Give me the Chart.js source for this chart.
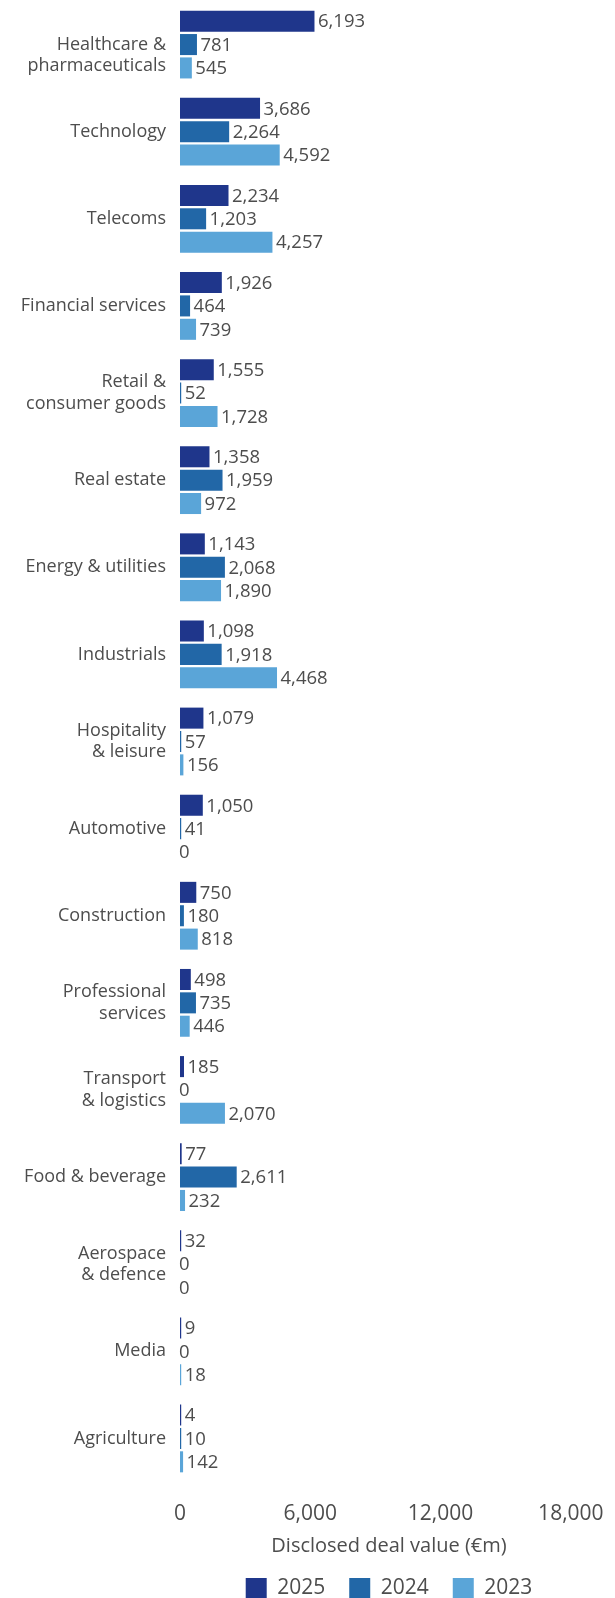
<!DOCTYPE html>
<html>
<head>
<meta charset="utf-8">
<script src="https://cdn.jsdelivr.net/npm/chart.js@4.4.1/dist/chart.umd.min.js"></script>
<style>
    html, body { margin: 0; padding: 0; background: #fff; overflow: hidden; }
    #wrap { position: relative; width: 615px; height: 1609px; }
</style>
</head>
<body>
<div id="wrap"><canvas id="myChart"></canvas></div>
<script>
var sectors = [
    ['', 'Healthcare &', 'pharmaceuticals'],   // blank first line keeps the sector name level with the middle bar
    'Technology',
    'Telecoms',
    'Financial services',
    ['Retail &', 'consumer goods'],
    'Real estate',
    'Energy & utilities',
    'Industrials',
    ['Hospitality', '& leisure'],
    'Automotive',
    'Construction',
    ['Professional', 'services'],
    ['Transport', '& logistics'],
    'Food & beverage',
    ['Aerospace', '& defence'],
    'Media',
    'Agriculture'
];

var deals2025 = [6193, 3686, 2234, 1926, 1555, 1358, 1143, 1098, 1079, 1050, 750, 498, 185, 77, 32, 9, 4];
var deals2024 = [781, 2264, 1203, 464, 52, 1959, 2068, 1918, 57, 41, 180, 735, 0, 2611, 0, 0, 10];
var deals2023 = [545, 4592, 4257, 739, 1728, 972, 1890, 4468, 156, 0, 818, 446, 2070, 232, 0, 18, 142];

var xTicks = [0, 6000, 12000, 18000];

var textColor = '#4d4d4d';
var fontFamily = '"Open Sans", sans-serif';

var fmt = function (v) {
    return v.toLocaleString('en-US');
};

// zero values keep their label but get no visible bar
var barColor = function (color) {
    return function (c) {
        return c.raw === 0 ? 'rgba(0,0,0,0)' : color;
    };
};

var makeSet = function (label, data, color) {
    return {
        label: label,
        data: data,
        backgroundColor: barColor(color),
        borderWidth: 0,
        minBarLength: 1.2,
        barPercentage: 0.9,
        categoryPercentage: 0.805
    };
};

// value printed just past the end of each bar
var valueLabels = {
    id: 'valueLabels',
    afterDatasetsDraw: function (chart) {
        var ctx = chart.ctx;
        var xScale = chart.scales.x;
        ctx.save();
        ctx.font = '18.5px ' + fontFamily;
        ctx.fillStyle = textColor;
        ctx.textAlign = 'left';
        ctx.textBaseline = 'middle';
        chart.data.datasets.forEach(function (ds, i) {
            var meta = chart.getDatasetMeta(i);
            meta.data.forEach(function (bar, j) {
                var v = ds.data[j];
                var x = v === 0 ? xScale.getPixelForValue(0) - 1 : bar.x + 3.5;
                ctx.fillText(fmt(v), x, bar.y + 1);
            });
        });
        ctx.restore();
    }
};

var ctx = document.getElementById('myChart');

new Chart(ctx, {
    type: 'bar',
    data: {
        labels: sectors,
        datasets: [
            makeSet('2025', deals2025, '#1f368b'),
            makeSet('2024', deals2024, '#2267a7'),
            makeSet('2023', deals2023, '#5aa5d8')
        ]
    },
    options: {
        indexAxis: 'y',
        responsive: true,
        maintainAspectRatio: false,
        animation: false,
        layout: {
            padding: { top: 1, right: 17, left: 0, bottom: 0 }
        },
        scales: {
            x: {
                min: 0,
                max: 19250,
                border: { display: false },
                grid: { display: false, drawTicks: false },
                afterBuildTicks: function (scale) {
                    scale.ticks = xTicks.map(function (v) { return { value: v }; });
                },
                afterFit: function (scale) {
                    scale.height = 72;
                    scale.paddingLeft = 0;
                    scale.paddingRight = 0;
                },
                ticks: {
                    padding: 19.5,
                    color: textColor,
                    font: { family: fontFamily, size: 21 },
                    maxRotation: 0,
                    callback: function (v) { return fmt(v); }
                },
                title: {
                    display: true,
                    text: 'Disclosed deal value (€m)',
                    color: textColor,
                    font: { family: fontFamily, size: 20 },
                    padding: { top: 0, bottom: -4.5 }
                }
            },
            y: {
                border: { display: false },
                grid: { display: false, drawTicks: false },
                afterFit: function (scale) {
                    scale.width = 180;
                    scale.paddingTop = 0;
                    scale.paddingBottom = 0;
                },
                ticks: {
                    padding: 14,
                    color: textColor,
                    autoSkip: false,
                    font: { family: fontFamily, size: 18 }
                }
            }
        },
        plugins: {
            tooltip: { enabled: false },
            legend: {
                position: 'bottom',
                fullSize: false,
                labels: {
                    boxWidth: 21,
                    boxHeight: 21,
                    padding: 24,
                    color: textColor,
                    font: { family: fontFamily, size: 21 }
                }
            }
        }
    },
    plugins: [valueLabels]
});
</script>
</body>
</html>
